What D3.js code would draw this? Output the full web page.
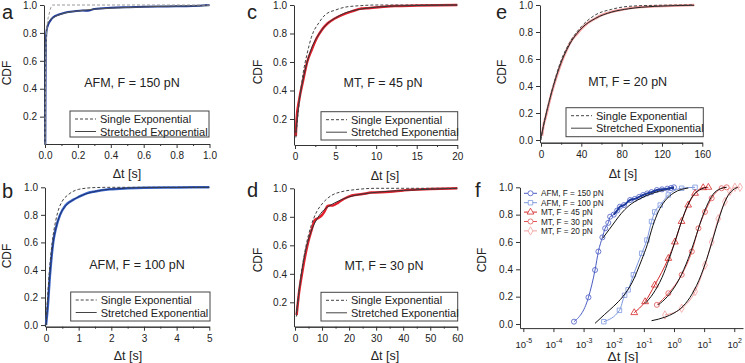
<!DOCTYPE html>
<html lang="en">
<head>
<meta charset="UTF-8">
<title>CDF panels</title>
<script src="https://d3js.org/d3.v7.min.js"></script>
<style>
  body { margin: 0; background: #fff; }
  svg text { font-family: "Liberation Sans", Arial, sans-serif; fill: #222; }
</style>
</head>
<body>
<div id="chart"></div>
<script>
// ---- data ----
// panel a: AFM, F = 150 pN
const aSingle = [[0,0],[0.004,0.6],[0.01,0.8],[0.018,0.9],[0.024,0.93],[0.035,0.98],[0.047,1.0],[0.2,1.0],[1.0,1.0]];
const aData = [[0.002,0.0],[0.003,0.3],[0.004,0.6],[0.006,0.75],[0.01,0.82],[0.02,0.86],[0.04,0.9],[0.06,0.92],[0.08,0.93],[0.12,0.945],[0.18,0.955],[0.23,0.96],[0.26,0.958],[0.3,0.972],[0.4,0.98],[0.5,0.984],[0.6,0.987],[0.74,0.99],[0.9,0.993],[1.0,1.0]];
const aStretched = [[0.002,0.0],[0.004,0.55],[0.008,0.78],[0.015,0.86],[0.03,0.89],[0.06,0.915],[0.1,0.935],[0.2,0.958],[0.3,0.97],[0.5,0.982],[0.7,0.99],[1.0,0.995]];
// panel b: AFM, F = 100 pN
const bSingle = [[0,0],[0.1,0.38],[0.2,0.62],[0.3,0.76],[0.4,0.85],[0.5,0.9],[0.7,0.95],[1.0,0.985],[1.5,0.998],[2,1.0],[5,1.0]];
const bData = [[0,0],[0.05,0.12],[0.12,0.36],[0.22,0.6],[0.3,0.7],[0.43,0.8],[0.6,0.87],[0.84,0.91],[1.0,0.93],[1.24,0.956],[1.5,0.97],[1.95,0.985],[2.5,0.993],[3,0.997],[4,0.999],[5,1.0]];
const bStretched = [[0,0],[0.05,0.14],[0.12,0.37],[0.22,0.6],[0.3,0.7],[0.43,0.8],[0.6,0.865],[0.84,0.91],[1.2,0.95],[1.6,0.975],[2,0.987],[3,0.997],[5,1.0]];
// panel c: MT, F = 45 pN
const cSingle = [[0.1,0.07],[0.5,0.3],[1,0.52],[1.5,0.66],[2,0.77],[3,0.88],[3.7,0.93],[5,0.965],[6.2,0.985],[8,0.995],[10,1.0],[20,1.0]];
const cData = [[0.1,0.08],[0.2,0.2],[0.5,0.33],[1.0,0.47],[1.5,0.6],[2.05,0.684],[2.7,0.77],[3.3,0.825],[4,0.87],[4.9,0.905],[6.2,0.94],[7,0.955],[8.2,0.975],[9,0.978],[10.3,0.984],[12.3,0.993],[15,0.996],[20,1.0]];
const cStretched = [[0.1,0.1],[0.5,0.32],[1,0.48],[1.5,0.6],[2,0.69],[3,0.8],[4,0.87],[5,0.91],[6,0.94],[8,0.97],[10,0.985],[13,0.994],[20,1.0]];
// panel d: MT, F = 30 pN
const dSingle = [[0.5,0.1],[2,0.36],[4,0.59],[6,0.74],[8,0.835],[10,0.89],[13.5,0.95],[17,0.975],[22,0.99],[30,1.0],[60,1.0]];
const dData = [[0.6,0.11],[1.5,0.27],[2.5,0.39],[3.5,0.5],[4.9,0.625],[6,0.7],[7.4,0.778],[8.5,0.79],[9.9,0.81],[11,0.84],[12,0.875],[12.9,0.88],[14,0.88],[16,0.9],[18,0.925],[21,0.95],[25,0.96],[28.3,0.97],[35,0.975],[40,0.985],[43,0.99],[50,0.995],[60,1.0]];
const dStretched = [[0.5,0.12],[2,0.35],[4,0.57],[6,0.7],[8,0.78],[10,0.835],[13,0.88],[16,0.91],[20,0.94],[25,0.96],[30,0.972],[40,0.985],[50,0.994],[60,1.0]];
// panel e: MT, F = 20 pN
const eSingle = [[0,0],[2.3,0.1],[5,0.19],[10.6,0.36],[20,0.59],[30,0.74],[40,0.84],[53.8,0.926],[70,0.968],[87,0.99],[110,0.997],[150,1.0]];
const eData = [[1,0.03],[2.3,0.1],[5,0.18],[10.6,0.35],[15,0.46],[20.5,0.58],[25,0.66],[30.5,0.74],[35,0.78],[40.5,0.827],[47,0.87],[53.8,0.9],[60,0.925],[70.3,0.95],[80,0.965],[86.9,0.975],[100,0.985],[113,0.99],[130,0.995],[152,1.0]];
const eStretched = [[0,0.02],[2.3,0.1],[5,0.19],[10.6,0.355],[20.5,0.585],[30.5,0.735],[40.5,0.83],[53.8,0.9],[70.3,0.948],[86.9,0.972],[113,0.99],[152,0.998]];
// panel f: all forces on a log axis
const fAfm150 = [[4.8e-4,0.017],[1.45e-3,0.195],[2.4e-3,0.395],[3.1e-3,0.53],[4.2e-3,0.634],[5.2e-3,0.7],[6.6e-3,0.74],[7.6e-3,0.785],[0.01,0.8],[0.013,0.83],[0.016,0.858],[0.022,0.87],[0.035,0.907],[0.05,0.915],[0.07,0.93],[0.095,0.944],[0.13,0.955],[0.18,0.965],[0.27,0.98],[0.4,0.985],[0.6,0.99],[0.8,0.995],[1.0,1.0]];
const fAfm150Fit = [[4.3e-3,0.627],[7e-3,0.69],[0.012,0.76],[0.018,0.81],[0.03,0.86],[0.08,0.92],[0.3,0.97],[1.0,0.995]];
const fAfm100 = [[4.7e-3,0.017],[0.0155,0.1],[0.023,0.21],[0.03,0.25],[0.045,0.36],[0.085,0.517],[0.126,0.614],[0.18,0.75],[0.23,0.82],[0.35,0.87],[0.65,0.944],[1.8,0.993],[5.0,1.0]];
const fAfm100Fit = [[2.4e-3,0.005],[5e-3,0.07],[0.01,0.13],[0.02,0.2],[0.04,0.3],[0.085,0.47],[0.13,0.58],[0.2,0.72],[0.3,0.82],[0.5,0.9],[1,0.96],[3,0.995]];
const fMt45 = [[0.048,0.083],[0.11,0.163],[0.23,0.285],[0.65,0.48],[1.07,0.6],[1.78,0.75],[2.95,0.87],[5.0,0.956],[9.3,0.997],[13.8,1.0]];
const fMt45Fit = [[0.11,0.15],[0.2,0.22],[0.4,0.34],[0.7,0.48],[1.0,0.58],[1.6,0.72],[2.5,0.84],[4,0.93],[7,0.98],[12,1.0]];
const fMt30 = [[0.27,0.14],[0.65,0.225],[1.8,0.36],[3.9,0.53],[6.5,0.7],[10.7,0.82],[17.8,0.92],[38,0.993],[56,1.0]];
const fMt30Fit = [[0.3,0.14],[0.6,0.2],[1.5,0.33],[3,0.48],[5,0.62],[8,0.76],[12,0.86],[20,0.95],[35,0.99],[55,1.0]];
const fMt20 = [[0.5,0.066],[1.8,0.115],[5.0,0.237],[10.7,0.43],[17.8,0.6],[29.5,0.77],[49,0.895],[72,0.97],[105,1.0],[155,1.0]];
const fMt20Fit = [[0.18,0.024],[0.5,0.05],[1,0.08],[2,0.13],[4,0.22],[8,0.36],[12,0.47],[20,0.63],[30,0.76],[50,0.9],[80,0.97],[130,1.0]];
const fLegend = ["AFM, F = 150 pN","AFM, F = 100 pN","MT, F = 45 pN","MT, F = 30 pN","MT, F = 20 pN"];
const fLogTicks = [-5,-4,-3,-2,-1,0,1,2];
const cdfTicks = [0.0,0.2,0.4,0.6,0.8,1.0];

const svg = d3.select("#chart").append("svg").attr("width", 745).attr("height", 363);
const axisColor = "#333";

function styleAxis(g) {
  g.select(".domain").attr("stroke", axisColor);
  g.selectAll(".tick line").attr("stroke", axisColor);
  g.selectAll(".tick text").attr("font-size", 10).attr("fill", "#333");
}

const line = (x, y) => d3.line().x(d => x(d[0])).y(d => y(d[1])).curve(d3.curveMonotoneX);

function drawPanel(p) {
  const x = d3.scaleLinear().domain(p.xDomain).range(p.xRange);
  const y = d3.scaleLinear().domain(p.yDomain).range(p.yRange);
  const g = svg.append("g");
  const y0 = p.yRange[0], x0 = p.xRange[0];

  // minor x ticks
  g.append("g").attr("transform", `translate(0,${y0})`)
    .call(d3.axisBottom(x).tickValues(p.xMinor).tickSize(2).tickSizeOuter(0).tickFormat(""))
    .call(styleAxis);
  g.append("g").attr("transform", `translate(0,${y0})`)
    .call(d3.axisBottom(x).tickValues(p.xTicks).tickSize(4).tickSizeOuter(0).tickPadding(4).tickFormat(p.xFmt))
    .call(styleAxis);
  g.append("g").attr("transform", `translate(${x0 - 1},0)`)
    .call(d3.axisLeft(y).tickValues(p.yTicks).tickSize(4).tickSizeOuter(0).tickPadding(3).tickFormat(d3.format(".1f")))
    .call(styleAxis);

  // curves
  g.append("path").datum(p.data).attr("fill", "none").attr("stroke", p.dataColor)
    .attr("stroke-width", p.dataWidth).attr("d", line(x, y));
  g.append("path").datum(p.stretched).attr("fill", "none").attr("stroke", p.fitColor)
    .attr("stroke-width", 1).attr("d", line(x, y));
  g.append("path").datum(p.single).attr("fill", "none").attr("stroke", p.dashColor)
    .attr("stroke-width", 1).attr("stroke-dasharray", "3,2").attr("d", line(x, y));

  // labels
  g.append("text").attr("x", p.letter[0]).attr("y", p.letter[1]).attr("font-size", 20).text(p.name);
  g.append("text").attr("transform", `translate(${p.cdfPos[0]},${p.cdfPos[1]}) rotate(-90)`)
    .attr("text-anchor", "middle").attr("font-size", 12).text("CDF");
  g.append("text").attr("x", p.dtPos[0]).attr("y", p.dtPos[1]).attr("text-anchor", "middle")
    .attr("font-size", 12.5).text("\u0394t [s]");
  g.append("text").attr("x", p.note[0]).attr("y", p.note[1] + 4.5).attr("text-anchor", "middle")
    .attr("font-size", 12.5).text(p.noteText);

  // legend box
  const [lx, ly, lx2, ly2] = p.legend;
  const lg = g.append("g");
  lg.append("rect").attr("x", lx).attr("y", ly).attr("width", lx2 - lx).attr("height", ly2 - ly)
    .attr("fill", "#fff").attr("stroke", "#444").attr("stroke-width", 1);
  const rows = [["Single Exponential", "3,2"], ["Stretched Exponential", null]];
  rows.forEach((r, i) => {
    const yy = ly + 8 + i * 12.5;
    const ln = lg.append("line").attr("x1", lx + 5).attr("x2", lx + 26).attr("y1", yy).attr("y2", yy)
      .attr("stroke", "#444").attr("stroke-width", 1);
    if (r[1]) ln.attr("stroke-dasharray", r[1]);
    lg.append("text").attr("x", lx + 30).attr("y", yy + 4).attr("font-size", 11).text(r[0]);
  });
}

const fmt1 = d3.format(".1f"), fmt0 = d3.format("d");

drawPanel({ name: "a", letter: [2, 18.5], xDomain: [0, 1], xRange: [45, 209.5], yDomain: [0.004, 1], yRange: [144, 5],
  xTicks: [0, 0.2, 0.4, 0.6, 0.8, 1.0], xMinor: [0.1, 0.3, 0.5, 0.7, 0.9], xFmt: fmt1, yTicks: [0.2, 0.4, 0.6, 0.8, 1.0],
  data: aData, stretched: aStretched, single: aSingle, dataColor: "#1d3a9c", dataWidth: 2, fitColor: "#555", dashColor: "#999",
  cdfPos: [11, 73], dtPos: [127, 178], note: [132, 82], noteText: "AFM, F = 150 pN", legend: [70, 111, 209, 137] });

drawPanel({ name: "b", letter: [2, 198], xDomain: [0, 5], xRange: [46, 209.3], yDomain: [-0.012, 1], yRange: [326.7, 187.3],
  xTicks: [0, 1, 2, 3, 4, 5], xMinor: [0.5, 1.5, 2.5, 3.5, 4.5], xFmt: fmt0, yTicks: cdfTicks,
  data: bData, stretched: bStretched, single: bSingle, dataColor: "#3a66c8", dataWidth: 2.5, fitColor: "#1d2f6e", dashColor: "#444",
  cdfPos: [11, 256], dtPos: [128, 360], note: [137, 264], noteText: "AFM, F = 100 pN", legend: [70.7, 292, 210, 321] });

drawPanel({ name: "c", letter: [247, 18.5], xDomain: [0, 20], xRange: [295, 457.3], yDomain: [0.0175, 1], yRange: [145, 5],
  xTicks: [0, 5, 10, 15, 20], xMinor: [2.5, 7.5, 12.5, 17.5], xFmt: fmt0, yTicks: [0.2, 0.4, 0.6, 0.8, 1.0],
  data: cData, stretched: cStretched, single: cSingle, dataColor: "#e0202c", dataWidth: 2.5, fitColor: "#333", dashColor: "#444",
  cdfPos: [262, 72], dtPos: [385, 180], note: [383, 82], noteText: "MT, F = 45 pN", legend: [321, 111.7, 457.7, 140] });

drawPanel({ name: "d", letter: [247, 197], xDomain: [0, 60], xRange: [295, 457.3], yDomain: [0.029, 1], yRange: [326.7, 188.3],
  xTicks: [0, 10, 20, 30, 40, 50, 60], xMinor: [5, 15, 25, 35, 45, 55], xFmt: fmt0, yTicks: [0.2, 0.4, 0.6, 0.8, 1.0],
  data: dData, stretched: dStretched, single: dSingle, dataColor: "#e0202c", dataWidth: 2.5, fitColor: "#333", dashColor: "#444",
  cdfPos: [262, 260], dtPos: [385, 360], note: [384, 265], noteText: "MT, F = 30 pN", legend: [321, 292.3, 457.7, 321] });

drawPanel({ name: "e", letter: [496, 18.5], xDomain: [0, 160], xRange: [541, 702.3], yDomain: [-0.02, 1], yRange: [142.7, 5],
  xTicks: [0, 40, 80, 120, 160], xMinor: [20, 60, 100, 140], xFmt: fmt0, yTicks: cdfTicks,
  data: eData, stretched: eStretched, single: eSingle, dataColor: "#f29a9a", dataWidth: 2.5, fitColor: "#222", dashColor: "#444",
  cdfPos: [506, 72], dtPos: [623, 178], note: [627.7, 81], noteText: "MT, F = 20 pN", legend: [566, 107.7, 703.3, 136.7] });

// ---- panel f ----
(function () {
  const x = d3.scaleLog().domain([Math.pow(10, -5.11), Math.pow(10, 2.29)]).range([520, 743]);
  const y = d3.scaleLinear().domain([-0.03, 1]).range([328.1, 187.3]);
  const g = svg.append("g");
  const xa = g.append("g").attr("transform", "translate(0,328.1)")
    .call(d3.axisBottom(x).tickValues(fLogTicks.map(e => Math.pow(10, e))).tickSize(4).tickSizeOuter(0).tickFormat(""))
    .call(styleAxis);
  xa.selectAll(".tick").each(function (d, i) {
    const t = d3.select(this).append("text").attr("y", 20).attr("text-anchor", "middle").attr("font-size", 9.5).attr("fill", "#333");
    t.append("tspan").text("10");
    t.append("tspan").attr("dy", -5).attr("font-size", 7).text(fLogTicks[i]);
  });
  g.append("g").attr("transform", "translate(520,0)")
    .call(d3.axisLeft(y).tickValues(cdfTicks).tickSize(4).tickSizeOuter(0).tickPadding(3).tickFormat(d3.format(".1f")))
    .call(styleAxis);

  const ln = line(x, y);
  const series = [
    { data: fAfm150, fit: fAfm150Fit, color: "#4a5cc4", sym: d3.symbolCircle },
    { data: fAfm100, fit: fAfm100Fit, color: "#7e98e0", sym: d3.symbolSquare },
    { data: fMt45, fit: fMt45Fit, color: "#d42a2a", sym: d3.symbolTriangle },
    { data: fMt30, fit: fMt30Fit, color: "#e05555", sym: d3.symbolCircle },
    { data: fMt20, fit: fMt20Fit, color: "#f2a0a0", sym: d3.symbolDiamond }
  ];
  series.forEach(s => {
    g.append("path").datum(s.data).attr("fill", "none").attr("stroke", s.color).attr("stroke-width", 1).attr("d", ln);
    g.selectAll(null).data(s.data).enter().append("path")
      .attr("transform", d => `translate(${x(d[0])},${y(d[1])})`)
      .attr("d", d3.symbol().type(s.sym).size(20)).attr("fill", "none").attr("stroke", s.color).attr("stroke-width", 0.8);
  });
  series.forEach(s => {
    g.append("path").datum(s.fit).attr("fill", "none").attr("stroke", "#111").attr("stroke-width", 1).attr("d", ln);
  });
  // darker overlay for dense AFM 150 top
  g.append("path").datum(fAfm150.slice(8)).attr("fill", "none").attr("stroke", "#1d3a9c").attr("stroke-width", 2).attr("d", ln);

  // legend
  fLegend.forEach((lab, i) => {
    const yy = 193.3 + i * 9.4;
    const s = series[i];
    g.append("line").attr("x1", 524).attr("x2", 537).attr("y1", yy).attr("y2", yy).attr("stroke", s.color).attr("stroke-width", 1);
    g.append("path").attr("transform", `translate(530.5,${yy})`).attr("d", d3.symbol().type(s.sym).size(20))
      .attr("fill", "#fff").attr("stroke", s.color).attr("stroke-width", 0.8);
    g.append("text").attr("x", 541).attr("y", yy + 3).attr("font-size", 8.2).text(lab);
  });

  g.append("text").attr("x", 475).attr("y", 197).attr("font-size", 20).text("f");
  g.append("text").attr("transform", "translate(486,260) rotate(-90)").attr("text-anchor", "middle").attr("font-size", 12).text("CDF");
  g.append("text").attr("x", 623).attr("y", 361).attr("text-anchor", "middle").attr("font-size", 13.5).text("\u0394t [s]");
})();
</script>
</body>
</html>
